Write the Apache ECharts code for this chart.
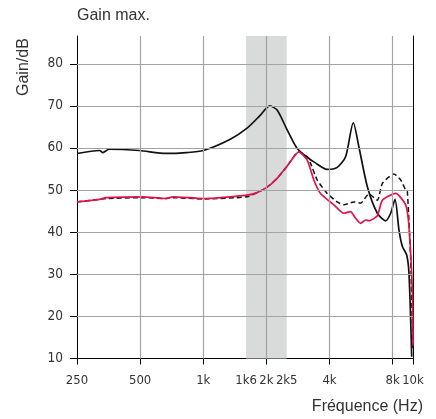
<!DOCTYPE html>
<html><head><meta charset="utf-8">
<script src="https://cdn.jsdelivr.net/npm/echarts@6/dist/echarts.min.js"></script>
<style>html,body{margin:0;padding:0;background:#fff}#c{width:436px;height:419px}</style>
</head><body><div id="c"></div>
<script>
const xTickValues = [250, 500, 1000, 2000, 4000, 8000, 10000];
const xLabelValues = [250, 500, 1000, 1600, 2000, 2500, 4000, 8000, 10000];
const xLabelText = ['250', '500', '1k', '1k6', '2k', '2k5', '4k', '8k', '10k'];
const yTickValues = [10, 20, 30, 40, 50, 60, 70, 80];
const xGridValues = [500, 1000, 2000, 4000, 8000];
const yGridValues = [20, 30, 40, 50, 60, 70, 80];
const bandRange = [1600, 2500];

const maxFreq = [250, 320, 332, 355, 495, 666, 830, 1000, 1346, 1618, 1872, 2074, 2250, 2512, 2803, 3245, 3366, 3899, 4353, 4770, 5192, 5520, 6058, 6760, 7405, 7825, 8207, 8574, 8900, 9330, 9570, 9860];
const maxGain = [58.7, 59.4, 58.9, 59.7, 59.4, 58.7, 58.9, 59.4, 62.1, 64.7, 67.8, 70.0, 69.0, 64.3, 59.9, 57.2, 56.7, 54.9, 55.4, 57.9, 66.0, 60.3, 50.8, 44.5, 42.7, 44.5, 47.8, 40.5, 36.6, 34.6, 30.2, 10.4];

const dashFreq = [250, 320, 344, 515, 666, 716, 1000, 1618, 1805, 2015, 2250, 2512, 2854, 3130, 3245, 3494, 3899, 4353, 4682, 5228, 5625, 6164, 6760, 7145, 8117, 8737, 9230, 9400, 9750, 10000];
const dashGain = [47.2, 47.8, 48.0, 48.2, 48.0, 48.2, 47.9, 48.4, 49.4, 50.7, 52.8, 55.7, 59.1, 57.9, 56.4, 52.4, 49.2, 47.2, 46.5, 47.2, 46.9, 49.1, 47.6, 51.6, 53.8, 52.4, 50.0, 49.6, 33.4, 12];

const redFreq = [250, 320, 344, 515, 666, 716, 1000, 1618, 1805, 2015, 2250, 2512, 2854, 3130, 3366, 3623, 4193, 4682, 5038, 5325, 5625, 5943, 6164, 6760, 7145, 8270, 9230, 9570, 9937, 10000];
const redGain = [47.2, 47.8, 48.2, 48.4, 48.0, 48.4, 48.0, 48.8, 49.4, 50.7, 52.8, 55.7, 59.1, 57.1, 52.4, 49.2, 46.5, 44.5, 44.9, 43.3, 42.1, 42.9, 42.7, 43.9, 47.6, 49.2, 46.5, 41.3, 25.5, 13];

const pairs = (f, g) => f.map((v, i) => [v, g[i]]);
const narrow = '"Liberation Sans Narrow", "DejaVu Sans Condensed", "Liberation Sans", sans-serif';
const normal = '"Liberation Sans", Arial, sans-serif';

const chart = echarts.init(document.getElementById('c'), null, {renderer: 'canvas'});
const yMin = 10, yMax = 86.6;
chart.setOption({
  animation: false,
  grid: {left: 77, right: 23, top: 36, bottom: 60.5, containLabel: false},
  xAxis: {
    type: 'log', logBase: 2, min: 250, max: 10000,
    axisLine: {show: true, lineStyle: {color: '#000', width: 1}},
    axisTick: {show: true, inside: false, length: 6, lineStyle: {color: '#000'}, customValues: xTickValues},
    axisLabel: {show: true, margin: 16, fontFamily: narrow, fontSize: 13, color: '#333',
      hideOverlap: false, showMinLabel: true, showMaxLabel: true,
      customValues: xLabelValues,
      formatter: v => { const i = xLabelValues.indexOf(Math.round(v)); return i >= 0 ? xLabelText[i] : ''; }},
    splitLine: {show: false}, minorTick: {show: false}, minorSplitLine: {show: false}
  },
  yAxis: [{
    type: 'value', min: yMin, max: yMax, position: 'left',
    axisLine: {show: true, lineStyle: {color: '#000', width: 1}},
    axisTick: {show: true, inside: false, length: 7, lineStyle: {color: '#000'}, customValues: yTickValues},
    axisLabel: {show: true, margin: 14, fontFamily: narrow, fontSize: 13.5, color: '#333', customValues: yTickValues},
    splitLine: {show: false}
  }, {
    type: 'value', min: yMin, max: yMax, position: 'right',
    axisLine: {show: true, lineStyle: {color: '#000', width: 1}},
    axisTick: {show: false}, axisLabel: {show: false}, splitLine: {show: false}
  }],
  graphic: [
    {type: 'text', left: 77, top: 8, style: {text: 'Gain max.', font: '16px ' + normal, fill: '#333'}},
    {type: 'text', x: 16, y: 96, rotation: Math.PI / 2, style: {text: 'Gain/dB', font: '16px ' + normal, fill: '#333', verticalAlign: 'top'}},
    {type: 'text', right: 13, top: 399, style: {text: 'Fréquence (Hz)', font: '16px ' + normal, fill: '#333'}}
  ],
  series: [
    {type: 'line', data: [], z: 1, silent: true,
      markArea: {silent: true, itemStyle: {color: '#d9dada'}, data: [[{xAxis: bandRange[0]}, {xAxis: bandRange[1]}]]}},
    {type: 'line', data: [], z: 2, silent: true,
      markLine: {silent: true, symbol: 'none', label: {show: false},
        lineStyle: {color: '#a3a3a3', width: 1.2, type: 'solid'},
        data: xGridValues.map(v => ({xAxis: v})).concat(yGridValues.map(v => ({yAxis: v})))}},
    {name: 'max', type: 'line', z: 3, showSymbol: false, smooth: 0.25, data: pairs(maxFreq, maxGain),
      lineStyle: {color: '#111', width: 1.7}},
    {name: 'dash', type: 'line', z: 3, showSymbol: false, smooth: 0.2, data: pairs(dashFreq, dashGain),
      lineStyle: {color: '#111', width: 1.5, type: [5, 3]}},
    {name: 'red', type: 'line', z: 4, showSymbol: false, smooth: 0.2, data: pairs(redFreq, redGain),
      lineStyle: {color: '#e0144c', width: 1.7}}
  ]
});
</script></body></html>
